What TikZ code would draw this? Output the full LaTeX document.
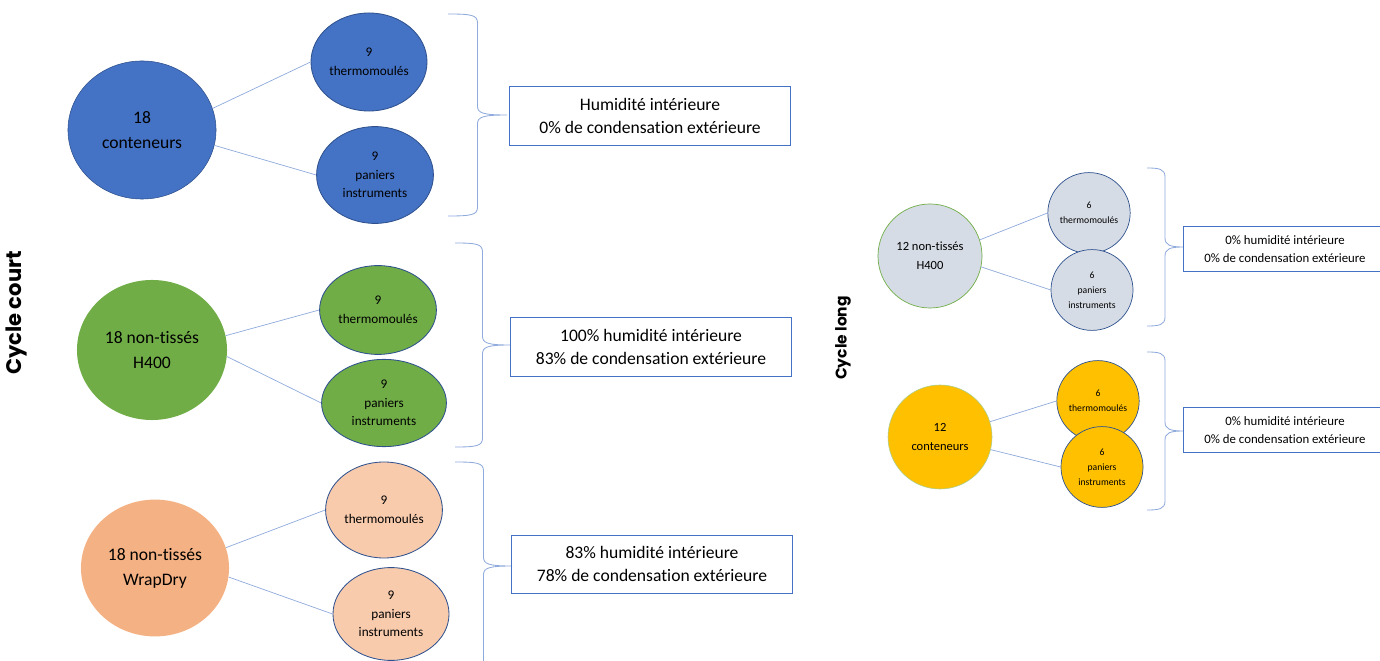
\documentclass[tikz,border=0pt]{standalone}
\usepackage{fontspec}
\setmainfont{Carlito}[Ligatures=NoCommon]
\newfontfamily\cyclefont{Poppins}
\usetikzlibrary{shapes.geometric}
\definecolor{bleu}{HTML}{4472C4}
\definecolor{bleufonce}{HTML}{2F528F}
\definecolor{lienbleu}{HTML}{8FAADC}
\definecolor{vert}{HTML}{70AD47}
\definecolor{saumon}{HTML}{F4B183}
\definecolor{saumonclair}{HTML}{F8CBAD}
\definecolor{gris}{HTML}{D6DCE5}
\definecolor{jaune}{HTML}{FFC000}

% accolade : x, haut, bas, profondeur (en px)
\newcommand\accolade[4]{%
	\pgfmathsetmacro\xm{#1+#4/2}\pgfmathsetmacro\xt{#1+#4}\pgfmathsetmacro\ym{(#2+#3)/2}%
	\draw[trait] (#1,#2) .. controls (\xm-6,#2) and (\xm,#2+1) .. (\xm,#2+9)
		-- (\xm,\ym-9) .. controls (\xm,\ym-2) and (\xm+5,\ym) .. (\xt,\ym)
		.. controls (\xm+5,\ym) and (\xm,\ym+2) .. (\xm,\ym+9)
		-- (\xm,#3-9) .. controls (\xm,#3-1) and (\xm-6,#3) .. (#1,#3);}

\begin{document}
\begin{tikzpicture}[x=0.025cm,y=-0.025cm]
			\tikzset{
				gros/.style={ellipse,inner sep=0pt,align=center,font=\fontsize{12.5}{17.8}\selectfont},
				petit/.style={ellipse,inner sep=0pt,align=center,line width=0.6pt,font=\fontsize{9.4}{13.2}\selectfont},
				grosR/.style={ellipse,inner sep=0pt,align=center,minimum width=2.6cm,minimum height=2.6cm,font=\fontsize{8.9}{13.5}\selectfont},
				petitR/.style={ellipse,inner sep=0pt,align=center,line width=0.5pt,minimum width=2.05cm,minimum height=2.02cm,font=\fontsize{6.9}{10.7}\selectfont},
				lien/.style={draw=lienbleu,line width=0.5pt},
				trait/.style={draw=lienbleu,line width=0.6pt},
				resultat/.style={draw=bleu,line width=0.7pt,align=center,inner sep=0pt,minimum width=7.03cm,minimum height=1.45cm,font=\fontsize{12.5}{17}\selectfont},
				resultatR/.style={draw=bleu,line width=0.6pt,align=center,inner sep=0pt,minimum width=5.1cm,minimum height=1.14cm,font=\fontsize{9.1}{12.8}\selectfont},
				cycle/.style={rotate=90,font=\cyclefont\bfseries\fontsize{#1}{#1}\selectfont}
			}
			\useasboundingbox (0,0) rectangle (1380,661);
			\clip (0,0) rectangle (1380,661);

			% cycle court
			\node[cycle=15pt] (court) at (16,313) {Cycle court};

			\node[gros,fill=bleu,draw=bleufonce,minimum width=3.7cm,minimum height=3.45cm] (cont) at (142,130) {18\\conteneurs};
			\node[petit,fill=bleu,draw=bleufonce,minimum width=2.9cm,minimum height=2.45cm] (contT) at (369,62) {9\\thermomoulés};
			\node[petit,fill=bleu,draw=bleufonce,minimum width=2.92cm,minimum height=2.42cm] (contP) at (375,175) {9\\paniers\\instruments};
			\draw[lien] (cont.17) -- (contT.west);
			\draw[lien] (cont.-12) -- (contP.west);

			\node[gros,fill=vert,minimum width=3.75cm,minimum height=3.5cm] (hq) at (152,350) {18 non-tissés\\H400};
			\node[petit,fill=vert,draw=bleufonce,minimum width=2.92cm,minimum height=2.22cm] (hqT) at (378,310) {9\\thermomoulés};
			\node[petit,fill=vert,draw=bleufonce,minimum width=3.12cm,minimum height=2.18cm] (hqP) at (384,403) {9\\paniers\\instruments};
			\draw[lien] (hq.11) -- (hqT.west);
			\draw[lien] (hq.-5) -- (hqP.west);

			\node[gros,fill=saumon,minimum width=3.7cm,minimum height=3.42cm] (wd) at (155,568) {18 non-tissés\\WrapDry};
			\node[petit,fill=saumonclair,draw=bleufonce,minimum width=2.92cm,minimum height=2.4cm] (wdT) at (384,510) {9\\thermomoulés};
			\node[petit,fill=saumonclair,draw=bleufonce,minimum width=2.9cm,minimum height=2.32cm] (wdP) at (391,614) {9\\paniers\\instruments};
			\draw[lien] (wd.16) -- (wdT.west);
			\draw[lien] (wd.-7) -- (wdP.west);

			\accolade{448}{14}{216}{59}
			\accolade{455}{243}{447}{55}
			\accolade{455}{462}{670}{57}

			\node[resultat] (res1) at (650,116) {Humidité intérieure\\0\% de condensation extérieure};
			\node[resultat] (res2) at (651,347) {100\% humidité intérieure\\83\% de condensation extérieure};
			\node[resultat] (res3) at (652,564) {83\% humidité intérieure\\78\% de condensation extérieure};

			% cycle long
			\node[cycle=11pt] (long) at (843,338) {Cycle long};

			\node[grosR,fill=gris,draw=vert,line width=0.5pt] (hqL) at (930,256) {12 non-tissés\\H400};
			\node[petitR,fill=gris,draw=bleufonce] (hqLT) at (1089,213) {6\\thermomoulés};
			\node[petitR,fill=gris,draw=bleufonce] (hqLP) at (1092,290) {6\\paniers\\instruments};
			\draw[lien] (hqL.18) -- (hqLT.west);
			\draw[lien] (hqL.-12) -- (hqLP.west);

			\node[grosR,fill=jaune,draw=vert!60,line width=0.4pt] (contL) at (940,437) {12\\conteneurs};
			\node[petitR,fill=jaune,draw=bleufonce] (contLT) at (1098,401) {6\\thermomoulés};
			\node[petitR,fill=jaune,draw=bleufonce] (contLP) at (1102,467) {6\\paniers\\instruments};
			\draw[lien] (contL.17) -- (contLT.west);
			\draw[lien] (contL.-14) -- (contLP.west);

			\accolade{1147}{168}{326}{36}
			\accolade{1147}{352}{510}{36}

			\node[resultatR] (res4) at (1285,249) {0\% humidité intérieure\\0\% de condensation extérieure};
			\node[resultatR] (res5) at (1285,430) {0\% humidité intérieure\\0\% de condensation extérieure};
		\end{tikzpicture}
\end{document}
